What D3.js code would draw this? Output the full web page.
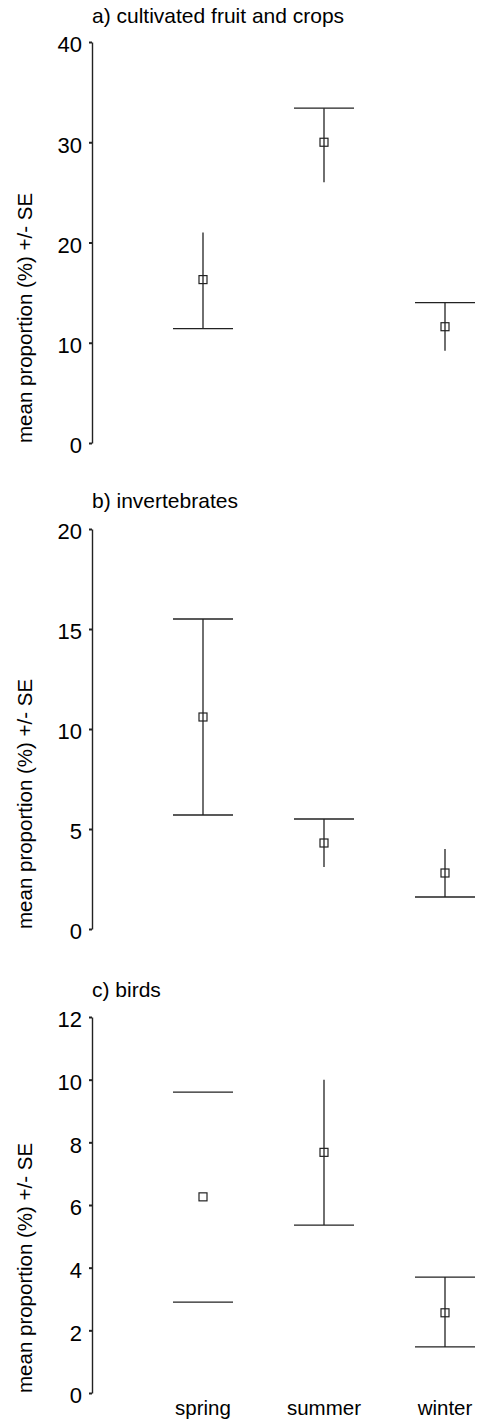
<!DOCTYPE html>
<html>
<head>
<meta charset="utf-8">
<script src="https://cdn.jsdelivr.net/npm/d3@7"></script>
<style>
  body { margin: 0; background: #fff; }
  text { font-family: "Liberation Sans", Arial, sans-serif; fill: #000; }
</style>
</head>
<body>
<div id="chart"></div>
<script>
var seasons = ["spring", "summer", "winter"];

// a) cultivated fruit and crops
var fruitMean = [16.3, 30.0, 11.6];
var fruitLow  = [11.4, 26.0, 9.2];
var fruitHigh = [21.0, 33.4, 14.0];
var fruitTicks = [0, 10, 20, 30, 40];

// b) invertebrates
var invertMean = [10.6, 4.3, 2.8];
var invertLow  = [5.7, 3.1, 1.6];
var invertHigh = [15.5, 5.5, 4.0];
var invertTicks = [0, 5, 10, 15, 20];

// c) birds
var birdMean = [6.26, 7.68, 2.56];
var birdLow  = [2.9, 5.36, 1.47];
var birdHigh = [9.6, 10.0, 3.7];
var birdTicks = [0, 2, 4, 6, 8, 10, 12];

// which ends of each error bar get a cap, as drawn in the original
var fruitCaps  = [["low"], ["high"], ["high"]];
var invertCaps = [["low", "high"], ["high"], ["low"]];
var birdCaps   = [["low", "high"], ["low"], ["low", "high"]];
var birdStem   = [false, true, true];

var width = 477, height = 1425;
var axisX = 92;
var capHalf = 30;
var ink = "#222";

var svg = d3.select("#chart").append("svg")
  .attr("width", width)
  .attr("height", height);

var x = d3.scalePoint().domain(seasons).range([203, 445]);

var panels = [
  {title: "a) cultivated fruit and crops", mean: fruitMean, low: fruitLow, high: fruitHigh,
   ticks: fruitTicks, caps: fruitCaps, stem: [true, true, true], top: 42, bottom: 443, titleY: 23},
  {title: "b) invertebrates", mean: invertMean, low: invertLow, high: invertHigh,
   ticks: invertTicks, caps: invertCaps, stem: [true, true, true], top: 529, bottom: 929, titleY: 508},
  {title: "c) birds", mean: birdMean, low: birdLow, high: birdHigh,
   ticks: birdTicks, caps: birdCaps, stem: birdStem, top: 1017, bottom: 1393, titleY: 997}
];

panels.forEach(function(p) {
  var y = d3.scaleLinear()
    .domain([0, d3.max(p.ticks)])
    .range([p.bottom, p.top]);

  var g = svg.append("g");

  g.append("text")
    .attr("x", axisX)
    .attr("y", p.titleY)
    .style("font-size", "21px")
    .text(p.title);

  var axis = g.append("g")
    .attr("transform", "translate(" + axisX + ",0)")
    .call(d3.axisLeft(y).tickValues(p.ticks).tickSize(3).tickSizeOuter(0).tickPadding(7));
  axis.select(".domain").attr("stroke", ink).attr("stroke-width", 1.4);
  axis.selectAll(".tick line").attr("stroke", ink).attr("stroke-width", 2);
  axis.selectAll(".tick text")
    .attr("dy", "0.45em")
    .style("font-size", "22px")
    .style("font-family", "'Liberation Sans', Arial, sans-serif")
    .attr("fill", "#000");

  g.append("text")
    .attr("transform", "translate(32," + p.bottom + ") rotate(-90)")
    .attr("text-anchor", "start")
    .style("font-size", "20.5px")
    .text("mean proportion (%) +/- SE");

  var rows = seasons.map(function(s, i) {
    return {season: s, mean: p.mean[i], low: p.low[i], high: p.high[i], caps: p.caps[i], stem: p.stem[i]};
  });

  var bars = g.selectAll(".bar")
    .data(rows)
    .enter()
    .append("g")
    .attr("class", "bar");

  bars.filter(function(d) { return d.stem; })
    .append("line")
    .attr("x1", function(d) { return x(d.season); })
    .attr("x2", function(d) { return x(d.season); })
    .attr("y1", function(d) { return y(d.low); })
    .attr("y2", function(d) { return y(d.high); })
    .attr("stroke", ink)
    .attr("stroke-width", 1.3);

  bars.each(function(d) {
    var bar = d3.select(this);
    d.caps.forEach(function(c) {
      var v = c == "low" ? d.low : d.high;
      bar.append("line")
        .attr("x1", x(d.season) - capHalf)
        .attr("x2", x(d.season) + capHalf)
        .attr("y1", y(v))
        .attr("y2", y(v))
        .attr("stroke", ink)
        .attr("stroke-width", 1.3);
    });
  });

  bars.append("rect")
    .attr("x", function(d) { return x(d.season) - 4; })
    .attr("y", function(d) { return y(d.mean) - 4; })
    .attr("width", 8)
    .attr("height", 8)
    .attr("fill", "none")
    .attr("stroke", ink)
    .attr("stroke-width", 1.2);
});

// season labels under the last panel
svg.append("g").selectAll("text")
  .data(seasons)
  .enter()
  .append("text")
  .attr("x", function(d) { return x(d); })
  .attr("y", 1415)
  .attr("text-anchor", "middle")
  .style("font-size", "20.5px")
  .text(function(d) { return d; });
</script>
</body>
</html>
